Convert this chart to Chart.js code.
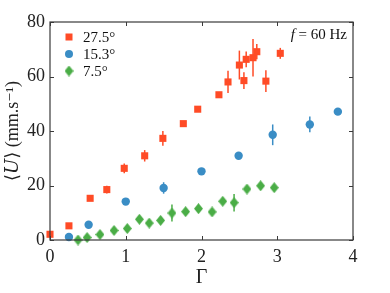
<!DOCTYPE html>
<html>
<head>
<meta charset="utf-8">
<script src="https://cdn.jsdelivr.net/npm/chart.js@4.4.0/dist/chart.umd.min.js"></script>
<style>
html, body { margin: 0; padding: 0; background: #fff; }
</style>
</head>
<body>
<canvas id="chart" width="390" height="293"></canvas>
<script>
// Données : Gamma, <U>, barres d'erreur
var labels = ['27.5°', '15.3°', '7.5°'];
var colors = ['#ff4b26', '#3a8dc5', '#4aad46'];

var gammaRed = [0, 0.25, 0.53, 0.75, 0.98, 1.25, 1.49, 1.76, 1.95, 2.23, 2.35, 2.50, 2.56, 2.59, 2.68, 2.73, 2.85, 3.04];
var speedRed = [2.1, 5.2, 15.3, 18.5, 26.3, 30.9, 37.3, 42.7, 48.0, 53.3, 58.0, 64.2, 58.5, 66.3, 66.9, 69.1, 58.3, 68.5];
var errRed   = [0.4, 0.4, 0.4, 1.4, 1.8, 2.1, 2.7, 0.7, 0.3, 0.5, 4.1, 5.3, 3.1, 2.9, 6.9, 2.8, 4.0, 2.0];

var gammaBlue = [0.25, 0.51, 1.0, 1.50, 2.0, 2.49, 2.94, 3.43, 3.80];
var speedBlue = [1.1, 5.6, 14.1, 19.1, 25.2, 30.9, 38.6, 42.4, 47.1];
var errBlue   = [0.3, 0.3, 0.4, 2.1, 0.3, 0.3, 3.8, 2.9, 0.3];

var gammaGreen = [0.37, 0.49, 0.66, 0.845, 1.02, 1.18, 1.31, 1.46, 1.61, 1.79, 1.96, 2.14, 2.28, 2.43, 2.60, 2.78, 2.96];
var speedGreen = [0.0, 0.9, 2.0, 3.5, 4.2, 7.6, 6.2, 7.2, 9.9, 10.4, 11.5, 10.3, 14.2, 13.7, 18.7, 19.9, 19.2];
var errGreen   = [0.5, 0.5, 0.6, 0.6, 0.8, 0.8, 0.6, 0.6, 3.1, 0.8, 0.6, 0.6, 0.8, 3.2, 0.8, 0.8, 0.8];

var xTicks = [0, 1, 2, 3, 4];
var yTicks = [0, 20, 40, 60, 80];

var serif = "'Liberation Serif', 'DejaVu Serif', serif";

function points(xs, ys, es) {
    return xs.map(function(x, i) { return { x: x, y: ys[i], err: es[i] }; });
}

// Losange un peu plus haut que large
function diamond(w, h, color) {
    var c = document.createElement('canvas');
    c.width = w; c.height = h;
    var g = c.getContext('2d');
    g.fillStyle = color;
    g.beginPath();
    g.moveTo(w / 2, 0); g.lineTo(w, h / 2); g.lineTo(w / 2, h); g.lineTo(0, h / 2);
    g.closePath(); g.fill();
    return c;
}
var greenDiamond = diamond(9, 11, colors[2]);

// Barres d'erreur verticales
var errorBars = {
    id: 'errorBars',
    beforeDatasetsDraw: function(chart) {
        var ctx = chart.ctx, xs = chart.scales.x, ys = chart.scales.y;
        chart.data.datasets.forEach(function(ds) {
            ctx.save();
            ctx.strokeStyle = ds.backgroundColor;
            ctx.lineWidth = 1.5;
            ds.data.forEach(function(p) {
                var px = xs.getPixelForValue(p.x);
                ctx.beginPath();
                ctx.moveTo(px, ys.getPixelForValue(p.y - p.err));
                ctx.lineTo(px, ys.getPixelForValue(p.y + p.err));
                ctx.stroke();
            });
            ctx.restore();
        });
    }
};

// Cadre, graduations internes, légende et annotation
var frame = {
    id: 'frame',
    afterDraw: function(chart) {
        var ctx = chart.ctx, a = chart.chartArea, xs = chart.scales.x, ys = chart.scales.y;
        ctx.save();
        ctx.strokeStyle = '#3a3a3a';
        ctx.lineWidth = 1.2;
        ctx.strokeRect(a.left, a.top, a.right - a.left, a.bottom - a.top);
        ctx.lineWidth = 1;
        xTicks.forEach(function(v) {
            var px = Math.round(xs.getPixelForValue(v)) + 0.5;
            ctx.beginPath();
            ctx.moveTo(px, a.bottom); ctx.lineTo(px, a.bottom - 4);
            ctx.moveTo(px, a.top); ctx.lineTo(px, a.top + 4);
            ctx.stroke();
        });
        yTicks.forEach(function(v) {
            var py = Math.round(ys.getPixelForValue(v)) + 0.5;
            ctx.beginPath();
            ctx.moveTo(a.left, py); ctx.lineTo(a.left + 4, py);
            ctx.moveTo(a.right, py); ctx.lineTo(a.right - 4, py);
            ctx.stroke();
        });

        // légende
        ctx.font = '15px ' + serif;
        ctx.fillStyle = '#111';
        ctx.textBaseline = 'middle';
        ctx.textAlign = 'left';
        var rowsY = [37, 54, 71];
        labels.forEach(function(t, i) {
            var mx = 69, my = rowsY[i];
            ctx.fillStyle = colors[i];
            if (i === 0) {
                ctx.fillRect(mx - 3.5, my - 3.5, 7, 7);
            } else if (i === 1) {
                ctx.beginPath(); ctx.arc(mx, my, 4, 0, Math.PI * 2); ctx.fill();
            } else {
                ctx.drawImage(greenDiamond, mx - 4.5, my - 5.5);
            }
            ctx.fillStyle = '#111';
            ctx.fillText(t, 83, my + 1);
        });

        // f = 60 Hz
        ctx.textAlign = 'right';
        ctx.font = '15px ' + serif;
        var rest = ' = 60 Hz';
        ctx.fillText(rest, 347, 35);
        var w = ctx.measureText(rest).width;
        ctx.font = 'italic 15px ' + serif;
        ctx.fillText('f', 347 - w, 35);
        ctx.restore();
    }
};

var ctx = document.getElementById('chart').getContext('2d');
var chart = new Chart(ctx, {
    type: 'scatter',
    data: {
        datasets: [{
            label: labels[0],
            data: points(gammaRed, speedRed, errRed),
            backgroundColor: colors[0],
            pointStyle: 'rect',
            pointRadius: 5,
            pointBorderWidth: 0,
            clip: false
        }, {
            label: labels[1],
            data: points(gammaBlue, speedBlue, errBlue),
            backgroundColor: colors[1],
            pointStyle: 'circle',
            pointRadius: 4.2,
            pointBorderWidth: 0,
            clip: false
        }, {
            label: labels[2],
            data: points(gammaGreen, speedGreen, errGreen),
            backgroundColor: colors[2],
            pointStyle: greenDiamond,
            pointRadius: 5,
            pointBorderWidth: 0,
            clip: false
        }]
    },
    options: {
        responsive: false,
        animation: false,
        layout: { padding: { top: 22, right: 37, left: 0, bottom: 0 } },
        plugins: {
            legend: { display: false },
            tooltip: { enabled: false }
        },
        scales: {
            x: {
                type: 'linear',
                min: 0, max: 4,
                afterFit: function(s) { s.height = 53; },
                grid: { display: false, drawTicks: false },
                border: { display: false },
                ticks: { stepSize: 1, padding: 6, color: '#222', font: { family: serif, size: 18 } },
                title: { display: true, text: 'Γ', color: '#222', padding: { top: 0, bottom: 3 }, font: { family: serif, size: 20 } }
            },
            y: {
                min: 0, max: 80,
                afterFit: function(s) { s.width = 50; },
                grid: { display: false, drawTicks: false },
                border: { display: false },
                ticks: { stepSize: 20, padding: 5, color: '#222', font: { family: serif, size: 18 } },
                title: { display: true, text: '⟨𝑈⟩ (mm.s⁻¹)', color: '#222', padding: { top: 2, bottom: 0 }, font: { family: serif, size: 18 } }
            }
        }
    },
    plugins: [errorBars, frame]
});
</script>
</body>
</html>
